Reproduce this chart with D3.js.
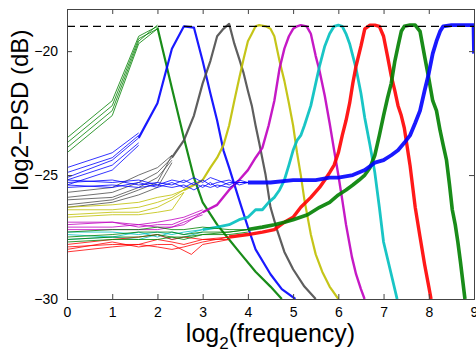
<!DOCTYPE html>
<html>
<head>
<meta charset="utf-8">
<script src="https://cdn.jsdelivr.net/npm/d3@7"></script>
<style>
  body { margin: 0; background: #fff; }
  svg { display: block; font-family: "Liberation Sans", Arial, Helvetica, sans-serif; }
</style>
</head>
<body>
<div id="chart"></div>
<script>
// tick values
var xTicks = [0, 1, 2, 3, 4, 5, 6, 7, 8, 9];
var yTicks = [-30, -25, -20];
var refLevel = -19;

// colours of the nine bands (matlab style)
var bandColors = ["#008000", "#0000ff", "#4d4d4d", "#bfbf00", "#bf00bf", "#00bfbf", "#ff0000", "#008000", "#0000ff"];

// band 1 - green, peak near 2
var band1Tails = [
    [[0, -23.5], [1, -22.0], [1.585, -19.4], [2, -19.0]],
    [[0, -23.7], [1, -22.2], [1.585, -19.5], [2, -19.1]],
    [[0, -23.9], [1, -22.4], [1.585, -19.6], [2, -18.95]],
    [[0, -24.1], [1, -22.6], [1.585, -19.7], [2, -19.1]]
];
var band1Main = [[2, -19.05], [2.32, -21.5], [2.585, -23.5], [2.807, -25.1], [3, -26.1], [3.32, -27.0],
    [3.585, -27.6], [3.807, -28.1], [4.17, -28.9], [4.5, -29.5], [4.75, -30]];

// band 2 - blue, peak near 2.6
var band2Tails = [
    [[0, -24.7], [1, -24.1], [1.585, -23.3]],
    [[0, -24.9], [1, -24.3], [1.585, -23.4]],
    [[0, -25.1], [1, -24.4], [1.585, -23.5]],
    [[0, -25.2], [1, -24.6], [1.585, -23.7]],
    [[0, -25.4], [1, -24.8], [1.585, -23.8]]
];
var band2Main = [[1.585, -23.5], [2, -22.1], [2.32, -19.9], [2.585, -19.0], [2.807, -19.05], [3, -20.4],
    [3.17, -21.7], [3.32, -22.8], [3.459, -24.0], [3.585, -24.7], [3.807, -26.0], [4, -27.1], [4.17, -28.0],
    [4.5, -29.0], [4.75, -29.6], [5.05, -30]];

// band 3 - grey, peak near 3.6
var band3Tails = [
    [[0, -25.7], [1, -25.5], [1.585, -25.0], [2, -24.7], [2.32, -24.2]],
    [[0, -25.9], [1, -25.7], [1.585, -25.3], [2, -24.9], [2.32, -24.3]],
    [[0, -26.0], [1, -25.9], [1.585, -25.5], [2, -25.1], [2.32, -24.4]],
    [[0, -26.2], [1, -26.0], [1.585, -25.6], [2, -25.3], [2.32, -24.2]],
    [[0, -26.3], [1, -26.1], [1.585, -25.8], [2, -25.5], [2.32, -24.5]]
];
var band3Main = [[2.32, -24.3], [2.585, -23.6], [2.807, -22.6], [3, -21.3], [3.17, -20.4], [3.32, -19.4],
    [3.459, -19.1], [3.585, -18.9], [3.7, -19.7], [3.807, -20.3], [3.907, -20.9], [4, -21.6], [4.087, -22.2],
    [4.17, -23.0], [4.25, -23.7], [4.392, -25.0], [4.5, -26.3], [4.643, -27.2], [4.807, -28.1], [5, -28.8],
    [5.25, -29.5], [5.5, -30]];

// band 4 - yellow, peak near 4.4
var band4Tails = [
    [[0, -26.3], [1, -26.2], [1.585, -26.1], [2, -25.9], [2.32, -25.8], [2.585, -25.6]],
    [[0, -26.4], [1, -26.4], [1.585, -26.3], [2, -26.1], [2.32, -25.9], [2.585, -25.6]],
    [[0, -26.6], [1, -26.5], [1.585, -26.5], [2, -26.3], [2.32, -26.0], [2.585, -25.7]],
    [[0, -26.7], [1, -26.6], [1.585, -26.6], [2, -26.5], [2.32, -26.4], [2.585, -25.7]]
];
var band4Main = [[2.585, -25.6], [2.807, -25.4], [3, -25.2], [3.17, -24.7], [3.32, -24.3], [3.459, -23.8],
    [3.585, -23.0], [3.7, -22.0], [3.807, -21.1], [3.907, -20.3], [4, -19.6], [4.087, -19.3], [4.17, -19.0],
    [4.25, -18.95], [4.392, -19.0], [4.5, -19.1], [4.585, -19.4], [4.7, -20.4], [4.807, -21.2], [4.907, -22.1],
    [5, -23.0], [5.087, -24.1], [5.17, -25.0], [5.25, -26.0], [5.392, -27.4], [5.5, -28.2], [5.644, -28.9],
    [5.807, -29.5], [6, -30]];

// band 5 - magenta, peak near 5.1
var band5Tails = [
    [[0, -26.9], [1, -26.9], [1.585, -27.0], [2, -26.9], [2.32, -26.8], [2.585, -26.7], [3, -26.4]],
    [[0, -27.0], [1, -26.9], [1.585, -27.1], [2, -27.0], [2.32, -27.0], [2.585, -26.8], [3, -26.5]],
    [[0, -27.1], [1, -27.1], [1.585, -27.0], [2, -27.1], [2.32, -27.1], [2.585, -26.9], [3, -26.6]],
    [[0, -27.2], [1, -27.2], [1.585, -27.2], [2, -27.2], [2.32, -27.1], [2.585, -27.0], [3, -26.5]]
];
var band5Main = [[3, -26.5], [3.32, -26.2], [3.585, -25.6], [3.807, -25.2], [4, -24.8], [4.17, -24.3],
    [4.32, -23.9], [4.459, -23.0], [4.585, -22.0], [4.7, -20.7], [4.807, -19.9], [4.907, -19.4], [5, -19.1],
    [5.087, -19.0], [5.17, -18.95], [5.3, -19.0], [5.392, -19.3], [5.5, -20.2], [5.585, -20.8], [5.7, -21.8],
    [5.807, -22.9], [5.907, -24.0], [6, -25.0], [6.087, -26.0], [6.17, -27.0], [6.3, -28.3], [6.392, -29.0],
    [6.5, -29.6], [6.58, -30]];

// band 6 - cyan, peak near 6
var band6Tails = [
    [[0, -27.3], [1, -27.3], [1.585, -27.4], [2, -27.3], [2.32, -27.4], [2.585, -27.3], [3, -27.2]],
    [[0, -27.4], [1, -27.5], [1.585, -27.3], [2, -27.5], [2.32, -27.3], [2.585, -27.4], [3, -27.2]],
    [[0, -27.6], [1, -27.5], [1.585, -27.6], [2, -27.4], [2.32, -27.6], [2.585, -27.5], [3, -27.3]]
];
var band6Main = [[3, -27.2], [3.32, -27.1], [3.585, -27.0], [3.807, -26.8], [4, -26.7], [4.17, -26.4],
    [4.32, -26.4], [4.459, -26.1], [4.585, -25.9], [4.7, -25.6], [4.807, -25.2], [4.907, -24.6], [5, -24.0],
    [5.087, -23.6], [5.17, -23.4], [5.25, -23.0], [5.392, -22.2], [5.5, -21.3], [5.585, -20.6], [5.7, -19.8],
    [5.807, -19.3], [5.907, -19.0], [6, -18.95], [6.087, -19.0], [6.17, -19.3], [6.25, -19.7], [6.392, -20.7],
    [6.5, -21.7], [6.585, -22.7], [6.7, -23.8], [6.807, -24.9], [6.907, -26.3], [7, -27.7], [7.17, -29.0],
    [7.3, -30]];

// band 7 - red, peak near 6.75
var band7Tails = [
    [[0, -27.8], [1, -27.6], [1.585, -27.5], [2, -27.4], [2.32, -27.6], [2.585, -27.5], [3, -27.6], [3.585, -27.5]],
    [[0, -27.9], [1, -27.8], [1.585, -27.8], [2, -27.6], [2.32, -27.7], [2.585, -27.8], [3, -27.6], [3.585, -27.6]],
    [[0, -28.0], [1, -27.7], [1.585, -27.9], [2, -27.8], [2.32, -27.8], [2.75, -28.2], [3, -27.8], [3.585, -27.6]],
    [[0, -28.1], [1, -27.9], [1.585, -27.8], [2, -27.9], [2.32, -28.0], [2.585, -27.9], [3, -27.7], [3.585, -27.5]]
];
var band7Main = [[3.585, -27.5], [4, -27.4], [4.32, -27.3], [4.585, -27.2], [4.807, -26.9], [5, -26.7],
    [5.17, -26.3], [5.392, -25.9], [5.585, -25.5], [5.7, -25.2], [5.807, -24.9], [5.907, -24.6], [6, -24.1],
    [6.087, -23.4], [6.17, -22.8], [6.25, -22.1], [6.32, -21.3], [6.392, -20.6], [6.5, -19.8], [6.585, -19.1],
    [6.7, -18.95], [6.807, -18.95], [6.907, -19.0], [7, -19.4], [7.087, -20.2], [7.17, -21.0], [7.25, -21.6],
    [7.32, -22.2], [7.392, -22.6], [7.459, -23.1], [7.585, -24.6], [7.7, -26.3], [7.807, -27.5], [7.907, -28.6],
    [8, -29.5], [8.05, -30]];

// band 8 - green, peak near 7.6
var band8Tails = [
    [[0, -27.3], [1, -27.2], [1.585, -27.2], [2, -27.1], [2.32, -27.2], [2.585, -27.2], [3, -27.1], [3.585, -27.2], [4, -27.2]],
    [[0, -27.5], [1, -27.4], [1.585, -27.3], [2, -27.3], [2.32, -27.3], [2.585, -27.4], [3, -27.3], [3.585, -27.3], [4, -27.2]],
    [[0, -27.6], [1, -27.5], [1.585, -27.5], [2, -27.4], [2.32, -27.5], [2.585, -27.5], [3, -27.4], [3.585, -27.3], [4, -27.2]],
    [[0, -27.7], [1, -27.6], [1.585, -27.6], [2, -27.6], [2.32, -27.5], [2.585, -27.6], [3, -27.4], [3.585, -27.4], [4, -27.3]]
];
var band8Main = [[4, -27.2], [4.32, -27.1], [4.585, -27.0], [4.807, -26.9], [5, -26.8], [5.32, -26.6],
    [5.585, -26.3], [5.807, -26.1], [6, -25.8], [6.17, -25.6], [6.32, -25.4], [6.459, -25.2], [6.585, -25.0],
    [6.7, -24.7], [6.807, -24.2], [6.907, -23.4], [7, -22.6], [7.087, -21.9], [7.17, -21.3], [7.25, -20.4],
    [7.32, -19.8], [7.392, -19.2], [7.459, -19.0], [7.585, -18.95], [7.7, -18.95], [7.807, -19.2], [7.907, -20.2],
    [8, -21.1], [8.087, -22.0], [8.17, -22.4], [8.25, -23.2], [8.32, -23.8], [8.392, -24.4], [8.459, -25.4],
    [8.52, -26.4], [8.585, -27.0], [8.643, -27.7], [8.7, -28.5], [8.8, -30]];

// band 9 - blue, high pass
var band9Tails = [
    [[0, -25.2], [1, -25.3], [1.585, -25.2], [2, -25.4], [2.32, -25.2], [2.585, -25.3], [2.807, -25.1], [3, -25.3], [3.17, -25.1], [3.32, -25.2], [3.585, -25.4], [3.807, -25.2], [4, -25.3]],
    [[0, -25.3], [1, -25.2], [1.585, -25.4], [2, -25.3], [2.32, -25.4], [2.585, -25.2], [2.807, -25.4], [3, -25.2], [3.17, -25.4], [3.32, -25.3], [3.585, -25.2], [3.807, -25.4], [4, -25.3]],
    [[0, -25.4], [1, -25.5], [1.585, -25.3], [2, -25.5], [2.32, -25.3], [2.585, -25.5], [2.807, -25.3], [3, -25.5], [3.17, -25.3], [3.32, -25.5], [3.585, -25.3], [3.807, -25.3], [4, -25.3]],
    [[0, -25.5], [1, -25.4], [1.585, -25.5], [2, -25.4], [2.32, -25.5], [2.585, -25.4], [2.807, -25.6], [3, -25.4], [3.17, -25.5], [3.32, -25.4], [3.585, -25.5], [3.807, -25.3], [4, -25.3]]
];
var band9Main = [[4, -25.3], [4.5, -25.3], [5, -25.2], [5.5, -25.2], [5.807, -25.1], [6, -25.1],
    [6.32, -25.0], [6.585, -24.8], [6.807, -24.5], [7, -24.4], [7.17, -24.2], [7.32, -24.0], [7.459, -23.7],
    [7.585, -23.4], [7.7, -22.9], [7.807, -22.4], [7.907, -21.6], [8, -20.9], [8.087, -20.1], [8.17, -19.6],
    [8.25, -19.2], [8.32, -19.0], [8.5, -18.95], [8.7, -18.95], [8.99, -18.95], [9, -20.1]];

var bandTails = [band1Tails, band2Tails, band3Tails, band4Tails, band5Tails, band6Tails, band7Tails, band8Tails, band9Tails];
var bandMains = [band1Main, band2Main, band3Main, band4Main, band5Main, band6Main, band7Main, band8Main, band9Main];
var mainWidths = [2.2, 2.2, 2.2, 2.2, 2.4, 2.8, 3.4, 3.6, 3.8];


// set up layout
var margin = { top: 9, right: 2, bottom: 53, left: 67 },
    width = 476 - margin.left - margin.right,
    height = 352 - margin.top - margin.bottom;

var x = d3.scaleLinear().domain([0, 9]).range([0, width]);
var y = d3.scaleLinear().domain([-30, -18.3]).range([height, 0]);

var svg = d3.select("#chart").append("svg")
    .attr("width", width + margin.left + margin.right)
    .attr("height", height + margin.top + margin.bottom);

var g = svg.append("g")
    .attr("transform", "translate(" + margin.left + "," + margin.top + ")");

g.append("clipPath").attr("id", "plotclip")
    .append("rect").attr("width", width).attr("height", height);

var line = d3.line()
    .x(function (d) { return x(d[0]); })
    .y(function (d) { return y(d[1]); });

var plot = g.append("g").attr("clip-path", "url(#plotclip)");


// draw curves, band by band
bandMains.forEach(function (main, i) {
    var bg = plot.append("g").attr("class", "band band" + (i + 1));
    bg.selectAll(".tail")
        .data(bandTails[i])
        .enter().append("path")
        .attr("class", "tail")
        .attr("d", line)
        .style("fill", "none")
        .style("stroke", bandColors[i])
        .style("stroke-width", 0.8)
        .style("stroke-linejoin", "round");
    bg.append("path")
        .attr("class", "main")
        .attr("d", line(main))
        .style("fill", "none")
        .style("stroke", bandColors[i])
        .style("stroke-width", mainWidths[i])
        .style("stroke-linejoin", "round")
        .style("opacity", 0.9);
});


// dashed reference level
plot.append("line")
    .attr("x1", 0).attr("x2", width)
    .attr("y1", y(refLevel)).attr("y2", y(refLevel))
    .style("stroke", "#000")
    .style("stroke-width", 1.2)
    .style("stroke-dasharray", "8,5");


// axes (matlab box with inward ticks)
var fmt = function (d) { return String(d).replace("-", "\u2212"); };

var xAxis = d3.axisBottom(x).tickValues(xTicks).tickSize(-5).tickPadding(8).tickFormat(fmt);
var xAxisTop = d3.axisTop(x).tickValues(xTicks).tickSize(-5).tickFormat("");
var yAxis = d3.axisLeft(y).tickValues(yTicks).tickSize(-5).tickPadding(9).tickFormat(fmt);
var yAxisRight = d3.axisRight(y).tickValues(yTicks).tickSize(-5).tickFormat("");

g.append("g").attr("class", "axis")
    .attr("transform", "translate(0," + height + ")").call(xAxis);
g.append("g").attr("class", "axis").call(xAxisTop);
g.append("g").attr("class", "axis").call(yAxis);
g.append("g").attr("class", "axis")
    .attr("transform", "translate(" + width + ",0)").call(yAxisRight);

g.selectAll(".axis path").style("stroke", "#444").style("stroke-width", 1);
g.selectAll(".axis line").style("stroke", "#444");
g.selectAll(".axis text")
    .style("font-size", "14px")
    .style("fill", "#000")
    .style("font-family", "'Liberation Sans', Arial, sans-serif");


// axis labels
var xl = svg.append("text")
    .attr("x", margin.left + width / 2)
    .attr("y", 342)
    .style("text-anchor", "middle")
    .style("font-size", "25px");
xl.append("tspan").text("log");
xl.append("tspan").attr("dy", 7).style("font-size", "17px").text("2");
xl.append("tspan").attr("dy", -7).text("(frequency)");

svg.append("text")
    .attr("transform", "translate(28,110) rotate(-90)")
    .style("text-anchor", "middle")
    .style("font-size", "24px")
    .text("log2\u2212PSD (dB)");
</script>
</body>
</html>
